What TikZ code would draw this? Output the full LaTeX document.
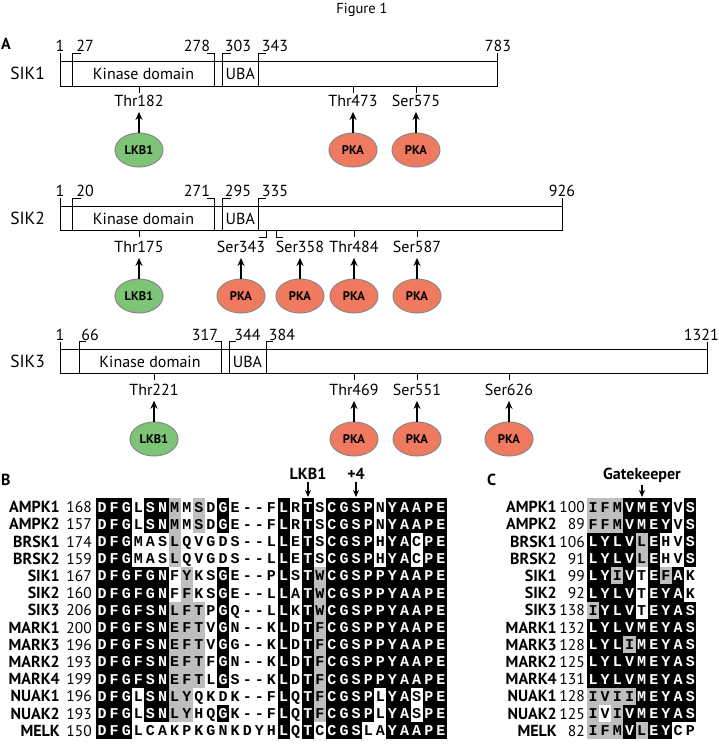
\documentclass[tikz,border=0pt]{standalone}
\usepackage{fontspec}
\setmainfont{PT Sans}
\newfontfamily\alfont{Liberation Mono}
\usetikzlibrary{shapes.geometric,arrows.meta}
\definecolor{lkbgreen}{RGB}{126,196,118}
\definecolor{pkared}{RGB}{240,122,96}
\definecolor{ellborder}{RGB}{135,135,135}
\definecolor{simgray}{RGB}{190,190,190}

\newcount\alcol
\def\alempty{}
\def\alsplitA#1#2\relax{\def\alcurA{#1}\def\alrestA{#2}}
\def\alsplitB#1#2\relax{\def\alcurB{#1}\def\alrestB{#2}}
\def\alcell{%
  \pgfmathsetmacro\alxa{\alxzero+\alcw*\the\alcol}%
  \pgfmathsetmacro\alxb{\alxa+\alcw}%
  \pgfmathsetmacro\alxc{\alxa+\alcw/2}%
  \if k\alcurB
    \fill[black] (\alxa,\alya) rectangle (\alxb,\alyb);
    \node[alchar,text=white] at (\alxc,\alybase) {\alcurA};
  \else
    \if g\alcurB
      \fill[simgray] (\alxa,\alya) rectangle (\alxb,\alyb);
    \fi
    \node[alchar] at (\alxc,\alybase) {\alcurA};
  \fi}
\def\alloop{%
  \ifx\alrestA\alempty\else
    \expandafter\alsplitA\alrestA\relax
    \expandafter\alsplitB\alrestB\relax
    \alcell
    \global\advance\alcol by 1
    \expandafter\alloop
  \fi}
% #1 x0, #2 y, #3 label x, #4 num x, #5 label, #6 num, #7 seq, #8 shading
\newcommand\alrow[8]{%
  \node[alname,anchor=base east] at (#3,#2+5.6) {#5};
  \node[alnum,anchor=base east] at (#4,#2+5.6) {#6};
  \def\alxzero{#1}%
  \pgfmathsetmacro\alya{#2-\alrh/2}%
  \pgfmathsetmacro\alyb{#2+\alrh/2}%
  \pgfmathsetmacro\alybase{#2+5}%
  \global\alcol=0
  \def\alrestA{#7}\def\alrestB{#8}%
  \alloop}

\tikzset{
  barl/.style={draw=black,line width=1pt},
  numl/.style={font=\fontsize{16}{19}\selectfont,inner sep=0pt,anchor=base},
  namel/.style={font=\fontsize{17.5}{20}\selectfont,inner sep=0pt,anchor=base},
  sitel/.style={font=\fontsize{16}{19}\selectfont,inner sep=0pt,anchor=base},
  kin/.style={ellipse,draw=ellborder,line width=1pt,minimum width=48pt,minimum height=34pt,inner sep=0pt,font=\bfseries\fontsize{12.5}{13}\selectfont},
  lkb/.style={kin,fill=lkbgreen},
  pka/.style={kin,fill=pkared},
  arr/.style={line width=1.5pt,-{Stealth[length=8pt,width=7pt]},shorten >=5pt},
  panel/.style={font=\bfseries\fontsize{16}{19}\selectfont,inner sep=0pt,anchor=base west},
  headl/.style={font=\bfseries\fontsize{16}{19}\selectfont,inner sep=0pt,anchor=base},
  harr/.style={line width=1.2pt,-{Stealth[length=7pt,width=6pt]},shorten <=2pt},
  alname/.style={font=\bfseries\fontsize{16}{19}\selectfont,inner sep=0pt},
  alnum/.style={font=\fontsize{15.5}{18}\selectfont,inner sep=0pt},
  alchar/.style={font=\alfont\bfseries\fontsize{15}{15}\selectfont,inner sep=0pt,anchor=base},
}

\begin{document}
\begin{tikzpicture}[x=1pt,y=-1pt]
\useasboundingbox (0,0) rectangle (719,744);
\fill[white] (0,0) rectangle (719,744);

\node[font=\fontsize{14.5}{16}\selectfont,inner sep=0pt,anchor=base] (fig) at (362,13) {Figure 1};
\node[panel] (pa) at (1,49) {A};

% ---------------- SIK1 ----------------
\node[namel] (n1) at (27.6,79.5) {SIK1};
\draw[barl] (60.8,61) rectangle (497.7,86);
\draw[barl] (60.8,61) -- (60.8,53);
\draw[barl] (72.8,86) -- (72.8,53) -- (80.6,53);
\draw[barl] (214.3,86) -- (214.3,53) -- (207,53);
\draw[barl] (222.6,86) -- (222.6,53) -- (231,53);
\draw[barl] (258,86) -- (258,53) -- (266,53);
\draw[barl] (497.7,61) -- (497.7,53);
\node[numl] (a1) at (60,51.5) {1};
\node[numl] (a2) at (85,51.5) {27};
\node[numl] (a3) at (197,51.5) {278};
\node[numl] (a4) at (238,51.5) {303};
\node[numl] (a5) at (275,51.5) {343};
\node[numl] (a6) at (498,51.5) {783};
\node[sitel] (k1) at (143.5,79) {Kinase domain};
\node[sitel] (u1) at (240.3,79) {UBA};
\draw[barl] (139,86) -- (139,93);
\draw[barl] (353,86) -- (353,93);
\draw[barl] (416,86) -- (416,93);
\node[sitel] (s11) at (139,106.5) {Thr182};
\node[sitel] (s12) at (353,106.5) {Thr473};
\node[sitel] (s13) at (416,106.5) {Ser575};
\node[lkb] (e11) at (139,150) {LKB1};
\node[pka] (e12) at (353,150) {PKA};
\node[pka] (e13) at (416,150) {PKA};
\draw[arr] (e11) -- (s11);
\draw[arr] (e12) -- (s12);
\draw[arr] (e13) -- (s13);

% ---------------- SIK2 ----------------
\node[namel] (n2) at (27.6,224.5) {SIK2};
\draw[barl] (60.8,206) rectangle (562,230);
\draw[barl] (60.8,206) -- (60.8,198);
\draw[barl] (72.8,230) -- (72.8,198) -- (80.6,198);
\draw[barl] (214.3,230) -- (214.3,198) -- (207,198);
\draw[barl] (222.6,230) -- (222.6,198) -- (231,198);
\draw[barl] (258,230) -- (258,198) -- (266,198);
\draw[barl] (562,206) -- (562,198);
\node[numl] (b1) at (60,196.5) {1};
\node[numl] (b2) at (85,196.5) {20};
\node[numl] (b3) at (197,196.5) {271};
\node[numl] (b4) at (238,196.5) {295};
\node[numl] (b5) at (275,196.5) {335};
\node[numl] (b6) at (562,196.5) {926};
\node[sitel] (k2) at (143.5,224) {Kinase domain};
\node[sitel] (u2) at (240.3,224) {UBA};
\draw[barl] (139,230) -- (139,237);
\draw[barl] (266,230) -- (266,237) -- (259,237);
\draw[barl] (276.5,230) -- (276.5,237) -- (283,237);
\draw[barl] (354,230) -- (354,237);
\draw[barl] (417,230) -- (417,237);
\node[sitel] (s21) at (139,252.5) {Thr175};
\node[sitel] (s22) at (241,252.5) {Ser343};
\node[sitel] (s23) at (300,252.5) {Ser358};
\node[sitel] (s24) at (354,252.5) {Thr484};
\node[sitel] (s25) at (417,252.5) {Ser587};
\node[lkb] (e21) at (139,296) {LKB1};
\node[pka] (e22) at (241,296) {PKA};
\node[pka] (e23) at (300,296) {PKA};
\node[pka] (e24) at (354,296) {PKA};
\node[pka] (e25) at (417,296) {PKA};
\draw[arr] (e21) -- (s21);
\draw[arr] (e22) -- (s22);
\draw[arr] (e23) -- (s23);
\draw[arr] (e24) -- (s24);
\draw[arr] (e25) -- (s25);

% ---------------- SIK3 ----------------
\node[namel] (n3) at (27.6,367.5) {SIK3};
\draw[barl] (60.8,349) rectangle (707,373);
\draw[barl] (60.8,349) -- (60.8,341.5);
\draw[barl] (79,373) -- (79,341.5) -- (85.5,341.5);
\draw[barl] (221,373) -- (221,341.5) -- (214.5,341.5);
\draw[barl] (229,373) -- (229,341.5) -- (235.5,341.5);
\draw[barl] (266,373) -- (266,341.5) -- (272.5,341.5);
\draw[barl] (707,349) -- (707,341.5);
\node[numl] (c1) at (60,340) {1};
\node[numl] (c2) at (90,340) {66};
\node[numl] (c3) at (205,340) {317};
\node[numl] (c4) at (247.5,340) {344};
\node[numl] (c5) at (282,340) {384};
\node[numl,anchor=base east] (c6) at (719,340) {1321};
\node[sitel] (k3) at (150,367) {Kinase domain};
\node[sitel] (u3) at (247.5,367) {UBA};
\draw[barl] (154,373) -- (154,380);
\draw[barl] (354,373) -- (354,380);
\draw[barl] (417,373) -- (417,380);
\draw[barl] (509,373) -- (509,380);
\node[sitel] (s31) at (154,395.5) {Thr221};
\node[sitel] (s32) at (354,395.5) {Thr469};
\node[sitel] (s33) at (417,395.5) {Ser551};
\node[sitel] (s34) at (509,395.5) {Ser626};
\node[lkb] (e31) at (154,439) {LKB1};
\node[pka] (e32) at (354,439) {PKA};
\node[pka] (e33) at (417,439) {PKA};
\node[pka] (e34) at (509,439) {PKA};
\draw[arr] (e31) -- (s31);
\draw[arr] (e32) -- (s32);
\draw[arr] (e33) -- (s33);
\draw[arr] (e34) -- (s34);

% ---------------- Panel B ----------------
\node[panel] (pb) at (1,485) {B};
\node[headl] (hl) at (308,479.5) {LKB1};
\node[headl] (hp) at (356,479.5) {+4};
\coordinate (hlt) at (308,497);
\coordinate (hpt) at (356,497);
\draw[harr] (hl) -- (hlt);
\draw[harr] (hp) -- (hpt);

\def\alcw{12.1}\def\alrh{17.2}
\alrow{96}{507}{60}{92}{AMPK1}{168}{DFGLSNMMSDGE--FLRTSCGSPNYAAPE}{kkkwkkgwgwkwwwwkwkwkkkkwkkkkk}
\alrow{96}{524.2}{60}{92}{AMPK2}{157}{DFGLSNMMSDGE--FLRTSCGSPNYAAPE}{kkkwkkgwgwkwwwwkwkwkkkkwkkkkk}
\alrow{96}{541.4}{60}{92}{BRSK1}{174}{DFGMASLQVGDS--LLETSCGSPHYACPE}{kkkwwwgwwwwwwwwkwkwkkkkwkkwkk}
\alrow{96}{558.6}{60}{92}{BRSK2}{159}{DFGMASLQVGDS--LLETSCGSPHYACPE}{kkkwwwgwwwwwwwwkwkwkkkkwkkwkk}
\alrow{96}{575.8}{60}{92}{SIK1}{167}{DFGFGNFYKSGE--PLSTWCGSPPYAAPE}{kkkkkkwgwwkwwwwkwkgkkkkkkkkkk}
\alrow{96}{593}{60}{92}{SIK2}{160}{DFGFGNFFKSGE--LLATWCGSPPYAAPE}{kkkkkkwgwwkwwwwkwkgkkkkkkkkkk}
\alrow{96}{610.2}{60}{92}{SIK3}{206}{DFGFSNLFTPGQ--LLKTWCGSPPYAAPE}{kkkkkkgggwkwwwwkwkgkkkkkkkkkk}
\alrow{96}{627.4}{60}{92}{MARK1}{200}{DFGFSNEFTVGN--KLDTFCGSPPYAAPE}{kkkkkkgggwkwwwwkwkgkkkkkkkkkk}
\alrow{96}{644.6}{60}{92}{MARK3}{196}{DFGFSNEFTVGG--KLDTFCGSPPYAAPE}{kkkkkkgggwkwwwwkwkgkkkkkkkkkk}
\alrow{96}{661.8}{60}{92}{MARK2}{193}{DFGFSNEFTFGN--KLDTFCGSPPYAAPE}{kkkkkkgggwkwwwwkwkgkkkkkkkkkk}
\alrow{96}{679}{60}{92}{MARK4}{199}{DFGFSNEFTLGS--KLDTFCGSPPYAAPE}{kkkkkkgggwkwwwwkwkgkkkkkkkkkk}
\alrow{96}{696.2}{60}{92}{NUAK1}{196}{DFGLSNLYQKDK--FLQTFCGSPLYASPE}{kkkwkkggwwwwwwwkwkgkkkkwkkwkk}
\alrow{96}{713.4}{60}{92}{NUAK2}{193}{DFGLSNLYHQGK--FLQTFCGSPLYASPE}{kkkwkkggwwkwwwwkwkgkkkkwkkwkk}
\alrow{96}{730.6}{60}{92}{MELK}{150}{DFGLCAKPKGNKDYHLQTCCGSLAYAAPE}{kkkwwwwwwwwwwwwkwkwkkkwwkkkkk}

% ---------------- Panel C ----------------
\node[panel] (pc) at (487,485) {C};
\node[headl] (hg) at (642,479.5) {Gatekeeper};
\coordinate (hgt) at (642,497);
\draw[harr] (hg) -- (hgt);

\def\alcw{12.15}
\alrow{587}{507}{557}{585}{AMPK1}{100}{IFMVMEYVS}{gggkkkkwk}
\alrow{587}{524.2}{557}{585}{AMPK2}{89}{FFMVMEYVS}{gggkkkkwk}
\alrow{587}{541.4}{557}{585}{BRSK1}{106}{LYLVLEHVS}{kkkkgkwwk}
\alrow{587}{558.6}{557}{585}{BRSK2}{91}{LYLVLEHVS}{kkkkgkwwk}
\alrow{587}{575.8}{557}{585}{SIK1}{99}{LYIVTEFAK}{kkgkwkgkw}
\alrow{587}{593}{557}{585}{SIK2}{92}{LYLVTEYAK}{kkkkwkkkw}
\alrow{587}{610.2}{557}{585}{SIK3}{138}{IYLVTEYAS}{gkkkwkkkk}
\alrow{587}{627.4}{557}{585}{MARK1}{132}{LYLVMEYAS}{kkkkkkkkk}
\alrow{587}{644.6}{557}{585}{MARK3}{128}{LYLIMEYAS}{kkkgkkkkk}
\alrow{587}{661.8}{557}{585}{MARK2}{125}{LYLVMEYAS}{kkkkkkkkk}
\alrow{587}{679}{557}{585}{MARK4}{131}{LYLVMEYAS}{kkkkkkkkk}
\alrow{587}{696.2}{557}{585}{NUAK1}{128}{IVIIMEYAS}{ggggkkkkk}
\alrow{587}{713.4}{557}{585}{NUAK2}{125}{IVIVMEYAS}{gwgkkkkkk}
\alrow{587}{730.6}{557}{585}{MELK}{82}{IFMVLEYCP}{gggkgkkww}
\end{tikzpicture}
\end{document}
